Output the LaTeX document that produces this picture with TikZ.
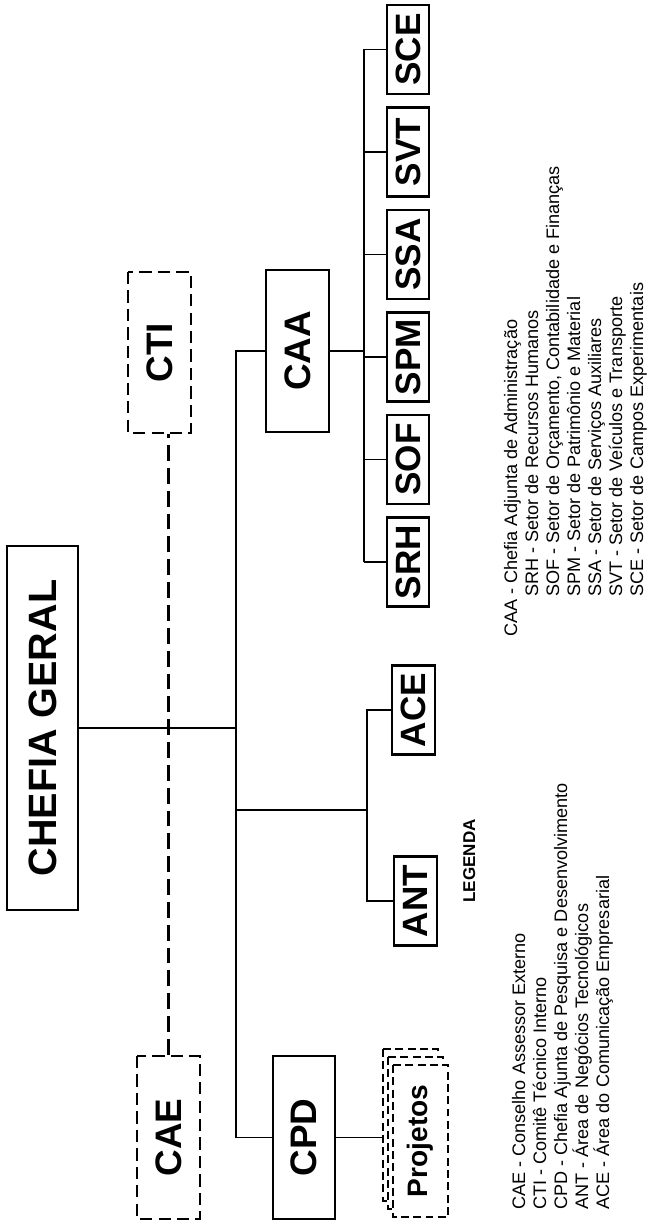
\documentclass[tikz,border=0pt]{standalone}
\usepackage{fontspec}
\setmainfont{Liberation Sans}
\begin{document}
\begin{tikzpicture}[x=0.02cm, y=-0.02cm, line cap=butt,
    unit/.style={draw, line width=1.4pt, fill=white, inner sep=0pt, rotate=90,
      font=\bfseries\fontsize{21}{21}\selectfont},
    advisory/.style={unit, dash pattern=on 7pt off 3.5pt},
    setor/.style={unit, minimum width=1.78cm, minimum height=0.84cm,
      font=\bfseries\fontsize{20}{20}\selectfont},
    projbox/.style={draw, line width=1.1pt, fill=white, rotate=90, inner sep=0pt,
      dash pattern=on 4.5pt off 2.5pt, minimum width=3.04cm, minimum height=1.1cm},
    link/.style={line width=1pt},
    leg/.style={inner sep=0pt, rotate=90, anchor=base west,
      font=\fontsize{10.3}{12}\selectfont}]
  \useasboundingbox (0,0) rectangle (650,1230);
  % caixas principais (texto girado 90 graus)
  \node[unit, minimum width=7.28cm, minimum height=1.42cm,
    font=\bfseries\fontsize{22.5}{22.5}\selectfont] (chefia) at (42.5,728) {CHEFIA GERAL};
  \node[advisory, minimum width=3.22cm, minimum height=1.26cm] (cti) at (159.5,352.5) {CTI};
  \node[advisory, minimum width=3.26cm, minimum height=1.26cm] (cae) at (168.5,1137.5) {CAE};
  \node[unit, minimum width=3.24cm, minimum height=1.26cm] (caa) at (297.5,351) {CAA};
  \node[unit, minimum width=3.26cm, minimum height=1.24cm] (cpd) at (304,1137.5) {CPD};
  \node[setor, minimum height=0.86cm] (ace) at (413.5,710) {ACE};
  \node[setor, minimum height=0.86cm] (ant) at (415.5,901) {ANT};
  \foreach \nome [count=\i from 0] in {SRH,SOF,SPM,SSA,SVT,SCE}
    \node[setor] (\nome) at (408,562-102.5*\i) {\nome};
  % projetos empilhados
  \node[projbox] (proj3) at (410.5,1125) {};
  \node[projbox] (proj2) at (415.5,1133) {};
  \node[projbox, font=\bfseries\fontsize{16}{16}\selectfont] (proj1) at (420.5,1141) {Projetos};
  % ligacoes
  \coordinate (trunk) at (236,700);
  \coordinate (apbus) at (367,810);
  \coordinate (cbus) at (364,350);
  \draw[link] (chefia.south) -- (chefia.south -| trunk);
  \draw[link] (cpd.north) -| (trunk) |- (caa.north);
  \draw[link] (trunk |- apbus) -- (apbus);
  \draw[link] (ace.north) -| (apbus) |- (ant.north);
  \draw[link] (caa.south) -- (caa.south -| cbus);
  \draw[link] (SRH.north -| cbus) -- (SCE.north -| cbus);
  \foreach \nome in {SRH,SOF,SPM,SSA,SVT,SCE}
    \draw[link] (\nome.north) -- (\nome.north -| cbus);
  \draw[link] (cpd.south) -- (cpd.south -| proj3.north);
  \draw[line width=1.4pt, dash pattern=on 9pt off 4pt] (cae.east) -- (cae.east |- cti.west);
  % legenda
  \node[leg, font=\bfseries\fontsize{9.7}{12}\selectfont] (legenda) at (475,903) {LEGENDA};
  \foreach \txt [count=\i from 0] in {CAE - Conselho Assessor Externo,
      CTI - Comitê Técnico Interno,
      CPD - Chefia Ajunta de Pesquisa e Desenvolvimento,
      ANT - Área de Negócios Tecnológicos,
      ACE - Área do Comunicação Empresarial}
    \node[leg] (legl\i) at (525+21*\i,1210) {\txt};
  \node[leg] (legcaa) at (517,637) {CAA - Chefia Adjunta de Administração};
  \foreach \txt [count=\i from 0] in {SRH - Setor de Recursos Humanos,
      {SOF - Setor de Orçamento, Contabilidade e Finanças},
      SPM - Setor de Patrimônio e Material,
      SSA - Setor de Serviços Auxiliares,
      SVT - Setor de Veículos e Transporte,
      SCE - Setor de Campos Experimentais}
    \node[leg] (legr\i) at (538+21*\i,597) {\txt};
\end{tikzpicture}
\end{document}
